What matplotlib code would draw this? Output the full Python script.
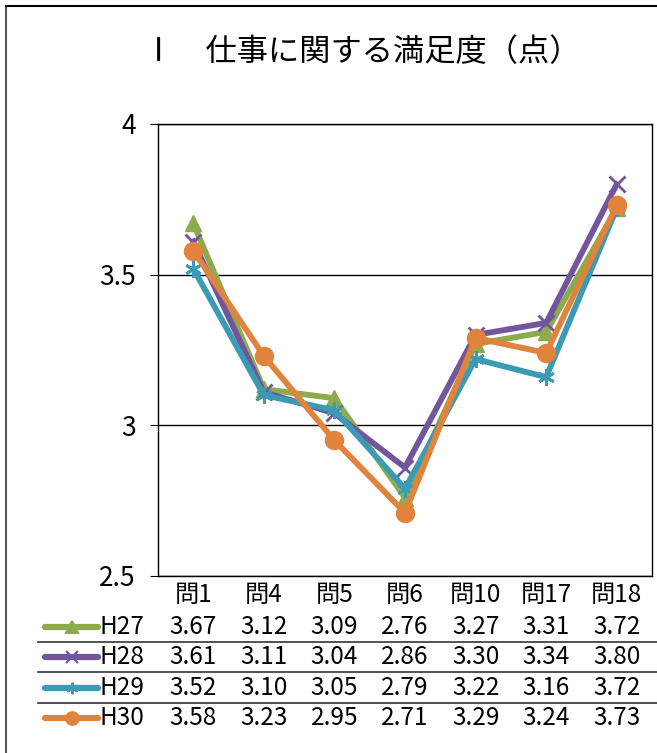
import matplotlib.pyplot as plt
from matplotlib.lines import Line2D

plt.rcParams['font.family'] = ['Noto Sans CJK JP', 'DejaVu Sans']

questions = ['問1', '問4', '問5', '問6', '問10', '問17', '問18']
years = ['H27', 'H28', 'H29', 'H30']
h27 = [3.67, 3.12, 3.09, 2.76, 3.27, 3.31, 3.72]
h28 = [3.61, 3.11, 3.04, 2.86, 3.30, 3.34, 3.80]
h29 = [3.52, 3.10, 3.05, 2.79, 3.22, 3.16, 3.72]
h30 = [3.58, 3.23, 2.95, 2.71, 3.29, 3.24, 3.73]
series = [h27, h28, h29, h30]

colors = ['#8cab4d', '#72559c', '#3b9ab4', '#e0833d']
markers = ['^', 'x', (6, 2, 0), 'o']
msizes = [12, 12, 12, 13]

W, H = 657, 753
fig = plt.figure(figsize=(W / 100, H / 100), dpi=100)

# outer frame (top and left edges visible)
fig.add_artist(Line2D([6 / W, 6 / W], [0, 1 - 6 / H], color='#555555', lw=1.5))
fig.add_artist(Line2D([6 / W, 1], [1 - 6 / H, 1 - 6 / H], color='black', lw=1.5))

fig.text(362 / W, 1 - 52 / H, 'Ⅰ　仕事に関する満足度（点）', ha='center', va='center', fontsize=22.5)

left, right, top, bottom = 158, 652, 124, 576
ax = fig.add_axes([left / W, 1 - bottom / H, (right - left) / W, (bottom - top) / H])
x = list(range(len(questions)))
for vals, c, m, ms in zip(series, colors, markers, msizes):
    ax.plot(x, vals, color=c, lw=4.2, marker=m, markersize=ms,
            markeredgewidth=2 if m in ('x', (6, 2, 0)) else 1, markeredgecolor=c,
            solid_joinstyle='round', zorder=3)
ax.set_xlim(-0.5, len(questions) - 0.5)
ax.set_ylim(2.5, 4)
ax.set_yticks([2.5, 3, 3.5, 4])
ax.set_yticklabels(['2.5', '3', '3.5', '4'], fontsize=19)
ax.set_xticks([])
ax.grid(axis='y', color='black', lw=1)
for s in ax.spines.values():
    s.set_color('black')
    s.set_linewidth(1)
ax.tick_params(axis='y', length=6, pad=10, color='black')

# data table
fs = 17.5
cx = [left + (i + 0.5) * (right - left) / len(questions) for i in x]
for xi, q in zip(cx, questions):
    fig.text(xi / W, 1 - 595 / H, q, ha='center', va='center', fontsize=fs)
row_y = [627, 657, 688, 718]
for ry, yr, vals, c, m, ms in zip(row_y, years, series, colors, markers, msizes):
    fy = 1 - ry / H
    fig.add_artist(Line2D([45 / W, 98 / W], [fy, fy], color=c, lw=4.5, solid_capstyle='round'))
    fig.add_artist(Line2D([72 / W], [fy], color=c, marker=m, markersize=ms * 0.7,
                          markeredgecolor=c, markeredgewidth=1.5, lw=0))
    fig.text(100 / W, fy, yr, ha='left', va='center', fontsize=fs)
    for xi, v in zip(cx, vals):
        fig.text(xi / W, fy, f'{v:.2f}', ha='center', va='center', fontsize=fs)
for ly in [642, 672, 703]:
    fig.add_artist(Line2D([38 / W, 1], [1 - ly / H, 1 - ly / H], color='#333333', lw=1.2))

fig.savefig('out.png', dpi=100)
